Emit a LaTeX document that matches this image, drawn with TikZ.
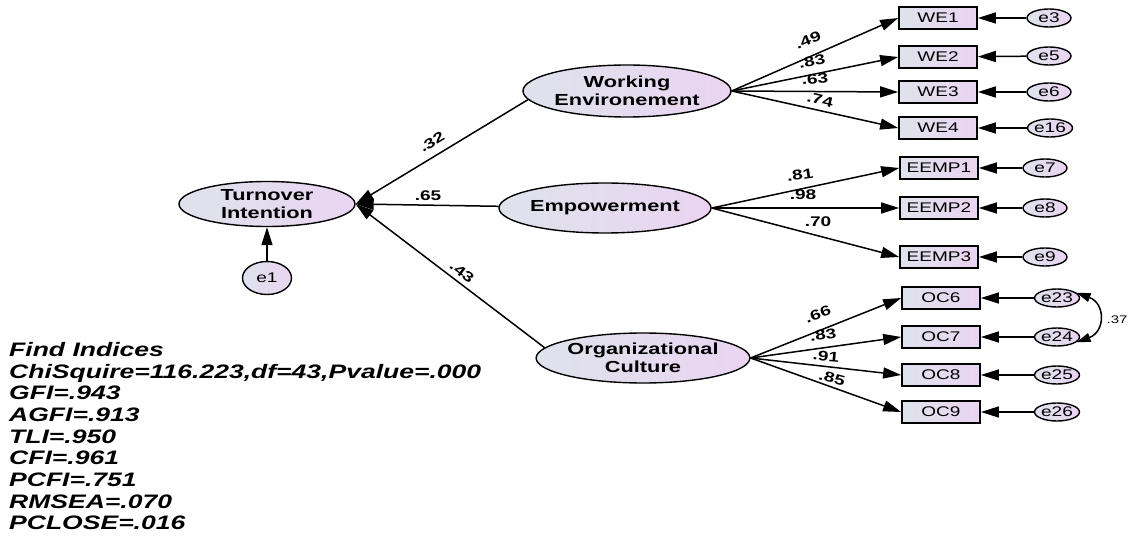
\documentclass[tikz,border=0pt]{standalone}
\usepackage{fontspec}
\setmainfont{Liberation Sans}[FakeStretch=1.36]
\usetikzlibrary{shapes.geometric,arrows.meta}
\definecolor{shadeL}{RGB}{222,227,236}
\definecolor{shadeR}{RGB}{234,212,242}

\begin{document}
\begin{tikzpicture}
        [x=1pt, y=1pt,
        latent/.style={ellipse, draw, line width=1.4pt, left color=shadeL, right color=shadeR, minimum width=207pt, minimum height=50pt, inner sep=0pt, align=center, font=\bfseries\fontsize{16}{18}\selectfont},
        obs/.style={rectangle, draw, line width=1.7pt, left color=shadeL, right color=shadeR, minimum width=78pt, minimum height=22pt, inner sep=0pt, font=\fontsize{14}{16}\selectfont},
        err/.style={ellipse, draw, line width=1.4pt, left color=shadeL, right color=shadeR, minimum width=44pt, minimum height=18pt, inner sep=0pt, font=\fontsize{14}{16}\selectfont},
        arr/.style={line width=1.5pt, -{Triangle[length=18pt,width=11pt]}},
        cov/.style={line width=1.5pt, {Triangle[length=14pt,width=9pt]}-{Triangle[length=14pt,width=9pt]}},
        coef/.style={font=\bfseries\fontsize{14}{16}\selectfont, inner sep=0pt}]
        \useasboundingbox (0,0) rectangle (1130,-537);

        % latent variables
        \node[latent, minimum width=176pt, minimum height=45pt] (TI) at (267,-204) {Turnover\\Intention};
        \node[err, minimum width=49pt, minimum height=33pt] (e1) at (267,-278) {e1};
        \node[latent, minimum width=208pt, minimum height=52pt] (WE) at (627,-91) {Working\\Environement};
        \node[latent] (EMP) at (605,-208) {Empowerment};
        \node[latent] (OC) at (643,-358) {Organizational\\Culture};

        % indicators
        \node[obs] (WE1) at (938,-18) {WE1};
        \node[obs] (WE2) at (938,-57) {WE2};
        \node[obs] (WE3) at (938,-92) {WE3};
        \node[obs] (WE4) at (938,-128) {WE4};
        \node[obs] (EEMP1) at (939,-168) {EEMP1};
        \node[obs] (EEMP2) at (939,-208) {EEMP2};
        \node[obs] (EEMP3) at (939,-257) {EEMP3};
        \node[obs] (OC6) at (941,-298) {OC6};
        \node[obs] (OC7) at (941,-337) {OC7};
        \node[obs] (OC8) at (941,-375) {OC8};
        \node[obs] (OC9) at (941,-412) {OC9};

        % errors
        \node[err] (e3) at (1049,-18) {e3};
        \node[err] (e5) at (1049,-56) {e5};
        \node[err] (e6) at (1049,-92) {e6};
        \node[err] (e16) at (1050,-128) {e16};
        \node[err] (e7) at (1045,-168) {e7};
        \node[err] (e8) at (1045,-208) {e8};
        \node[err] (e9) at (1045,-257) {e9};
        \node[err] (e23) at (1057,-298) {e23};
        \node[err] (e24) at (1057,-337) {e24};
        \node[err] (e25) at (1057,-375) {e25};
        \node[err] (e26) at (1057,-412) {e26};

        % structural paths
        \draw[arr] (WE.185) -- (TI.east);
        \draw[arr] (EMP) -- (TI.east);
        \draw[arr] (OC.174) -- (TI.east);
        \draw[arr] (e1) -- (TI);
        \node[coef, rotate=31] (c32) at (432,-142) {.32};
        \node[coef] (c65) at (428,-196) {.65};
        \node[coef, rotate=-37] (c43) at (462,-272) {.43};

        % loadings
        \draw[arr] (WE.east) -- (WE1.west);
        \draw[arr] (WE.east) -- (WE2.west);
        \draw[arr] (WE.east) -- (WE3.west);
        \draw[arr] (WE.east) -- (WE4.west);
        \draw[arr] (EMP.east) -- (EEMP1.west);
        \draw[arr] (EMP.east) -- (EEMP2.west);
        \draw[arr] (EMP.east) -- (EEMP3.west);
        \draw[arr] (OC.east) -- (OC6.west);
        \draw[arr] (OC.east) -- (OC7.west);
        \draw[arr] (OC.east) -- (OC8.west);
        \draw[arr] (OC.east) -- (OC9.west);

        \node[coef, rotate=22] (l49) at (808,-40) {.49};
        \node[coef, rotate=11] (l83a) at (812,-61) {.83};
        \node[coef, rotate=4] (l63) at (815,-79) {.63};
        \node[coef, rotate=-13] (l74) at (820,-100) {.74};
        \node[coef, rotate=8] (l81) at (800,-175) {.81};
        \node[coef] (l98) at (803,-195) {.98};
        \node[coef] (l70) at (818,-222) {.70};
        \node[coef, rotate=20] (l66) at (818,-314) {.66};
        \node[coef, rotate=8] (l83b) at (823,-335) {.83};
        \node[coef, rotate=-5] (l91) at (826,-356) {.91};
        \node[coef, rotate=-15] (l85) at (832,-378) {.85};

        % error terms
        \foreach \e/\v in {e3/WE1, e5/WE2, e6/WE3, e16/WE4, e7/EEMP1, e8/EEMP2, e9/EEMP3, e23/OC6, e24/OC7, e25/OC8, e26/OC9}
            \draw[arr] (\e) -- (\v);

        % covariance
        \draw[cov] (e23.15) to[out=-20, in=20, looseness=1.6] (e24.-15);
        \node[font=\fontsize{11}{13}\selectfont, inner sep=0pt] (r37) at (1117,-320) {.37};

        % fit indices
        \node[anchor=north west, align=left, inner sep=0pt, font=\bfseries\itshape\fontsize{19.5}{21.7}\selectfont] (fit) at (9,-342)
            {Find Indices\\ChiSquire=116.223,df=43,Pvalue=.000\\GFI=.943\\AGFI=.913\\TLI=.950\\CFI=.961\\PCFI=.751\\RMSEA=.070\\PCLOSE=.016};

    \end{tikzpicture}
\end{document}
